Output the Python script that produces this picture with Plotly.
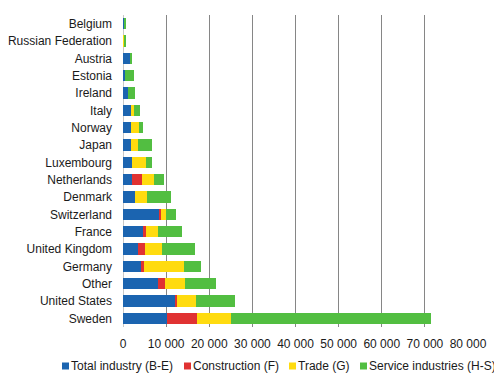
import plotly.graph_objects as go

countries = ["Belgium", "Russian Federation", "Austria", "Estonia", "Ireland", "Italy",
             "Norway", "Japan", "Luxembourg", "Netherlands", "Denmark", "Switzerland",
             "France", "United Kingdom", "Germany", "Other", "United States", "Sweden"]

total_industry = [390, 230, 1780, 540, 1240, 2010, 1780, 1780, 2010, 2010, 2710, 8510,
                  4640, 3400, 4330, 8040, 12220, 10130]
construction = [0, 0, 0, 0, 0, 0, 0, 0, 0, 2320, 0, 230, 620, 1620, 460, 1620, 230, 6960]
trade = [0, 150, 0, 0, 0, 460, 1860, 1620, 3250, 2780, 2780, 1160, 2780, 3940, 9280, 4640,
         4410, 7890]
service = [150, 330, 230, 1930, 1470, 1390, 930, 3250, 1390, 2320, 5570, 2320, 5570, 7660,
           3940, 7190, 9050, 46400]

series_names = ["Total industry (B-E)", "Construction (F)", "Trade (G)",
                "Service industries (H-S)"]
series_colors = ["#1b64b0", "#e03232", "#ffdb0f", "#52be41"]

tick_vals = [0, 10000, 20000, 30000, 40000, 50000, 60000, 70000, 80000]
tick_text = ["0", "10 000", "20 000", "30 000", "40 000", "50 000", "60 000", "70 000",
             "80 000"]

# the page body adds an 8px offset; the figure is sized to the visible area
OFF = 8
W, H = 502 - OFF, 386 - OFF
L, R, T, B = 123 - OFF, 34, 15 - OFF, 59
pw, ph = W - L - R, H - T - B


def px_x(p):
    return (p - OFF - L) / pw


def px_y(p):
    return (H - B - (p - OFF)) / ph


fig = go.Figure()
for name, vals, col in zip(series_names, [total_industry, construction, trade, service],
                           series_colors):
    fig.add_trace(go.Bar(y=countries, x=vals, name=name, orientation="h",
                         marker=dict(color=col, line=dict(width=0))))

# custom legend (small squares + text) in one row
legend_sq_x = [62, 184, 289, 360]
legend_y = 366
shapes = []
annotations = []
for name, col, sx in zip(series_names, series_colors, legend_sq_x):
    shapes.append(dict(type="rect", xref="paper", yref="paper",
                       x0=px_x(sx), x1=px_x(sx + 7),
                       y0=px_y(legend_y - 3.5), y1=px_y(legend_y + 3.5),
                       fillcolor=col, line=dict(width=0)))
    annotations.append(dict(text=name, xref="paper", yref="paper",
                            x=px_x(sx + 7), y=px_y(legend_y), xanchor="left",
                            yanchor="middle", showarrow=False,
                            font=dict(size=12, color="#1a1a1a")))

fig.update_layout(
    width=W, height=H,
    barmode="stack", bargap=0.36,
    margin=dict(l=L, r=R, t=T, b=B),
    paper_bgcolor="white", plot_bgcolor="white",
    font=dict(family="Liberation Sans, Arial, sans-serif", size=12, color="#1a1a1a"),
    xaxis=dict(range=[0, 80000], tickvals=tick_vals, ticktext=tick_text,
               showgrid=True, gridcolor="#868686", gridwidth=1,
               zeroline=True, zerolinecolor="#c8c8c8", zerolinewidth=1,
               showline=False, ticks="", ticklen=0, automargin=False,
               ticklabelstandoff=8, fixedrange=True),
    yaxis=dict(autorange="reversed", showgrid=False, ticks="", ticklen=0,
               showline=False, automargin=False, ticklabelstandoff=10,
               fixedrange=True),
    showlegend=False,
    shapes=shapes,
    annotations=annotations,
)

fig.write_html("out.html")
